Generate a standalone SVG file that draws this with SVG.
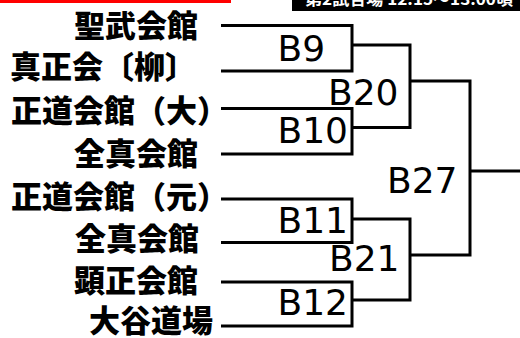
<svg xmlns="http://www.w3.org/2000/svg" width="520" height="338" viewBox="0 0 520 338">
<style>
.team{font-family:"Noto Sans CJK JP","Noto Sans CJK SC",sans-serif;font-weight:900;font-size:31px;fill:#000}
.match{font-family:"DejaVu Sans","Verdana",sans-serif;font-size:36px;fill:#000}
.ln{fill:none;stroke:#000;stroke-width:3;stroke-linejoin:miter;stroke-linecap:butt}
</style>
<defs><clipPath id="hc"><rect x="292" y="0" width="228" height="11"/></clipPath></defs>
<rect x="0" y="0" width="231" height="3" fill="#ff0000"/>
<g id="header">
<rect x="292" y="0" width="228" height="11" fill="#000"/>
<text x="305" y="5" clip-path="url(#hc)" textLength="208" lengthAdjust="spacingAndGlyphs" style="font-family:'Noto Sans CJK JP',sans-serif;font-weight:bold;font-size:16px;fill:#fff">第2試合場 12:15～13:00頃</text>
</g>
<g id="teams">
<g id="t1"><text class="team" x="74" y="37">聖武会館</text></g>
<g id="t2"><text class="team" x="10" y="78">真正会〔柳〕</text></g>
<g id="t3"><text class="team" x="11" y="122">正道会館（大）</text></g>
<g id="t4"><text class="team" x="74" y="165">全真会館</text></g>
<g id="t5"><text class="team" x="11" y="208">正道会館（元）</text></g>
<g id="t6"><text class="team" x="75" y="250">全真会館</text></g>
<g id="t7"><text class="team" x="74" y="292">顕正会館</text></g>
<g id="t8"><text class="team" x="89" y="332">大谷道場</text></g>
</g>
<g id="connectors">
<path class="ln" d="M221,25.5 H352 V71 H221"/>
<path class="ln" d="M221,108.5 H352 V154 H221"/>
<path class="ln" d="M221,199 H352 V242.5 H221"/>
<path class="ln" d="M221,282 H352 V326 H221"/>
<path class="ln" d="M352,45 H410 V127.5 H352"/>
<path class="ln" d="M352,219 H410 V300 H352"/>
<path class="ln" d="M410,81 H470 V255 H410"/>
<path class="ln" d="M470,171 H520"/>
</g>
<g id="matches">
<g id="B9"><text class="match" x="277.5" y="61">B9</text></g>
<g id="B10"><text class="match" x="277.5" y="143">B10</text></g>
<g id="B11"><text class="match" x="277.5" y="233">B11</text></g>
<g id="B12"><text class="match" x="277.5" y="315">B12</text></g>
<g id="B20"><text class="match" x="328" y="104.5">B20</text></g>
<g id="B21"><text class="match" x="329" y="270.5">B21</text></g>
<g id="B27"><text class="match" x="387" y="192.5">B27</text></g>
</g>
</svg>
